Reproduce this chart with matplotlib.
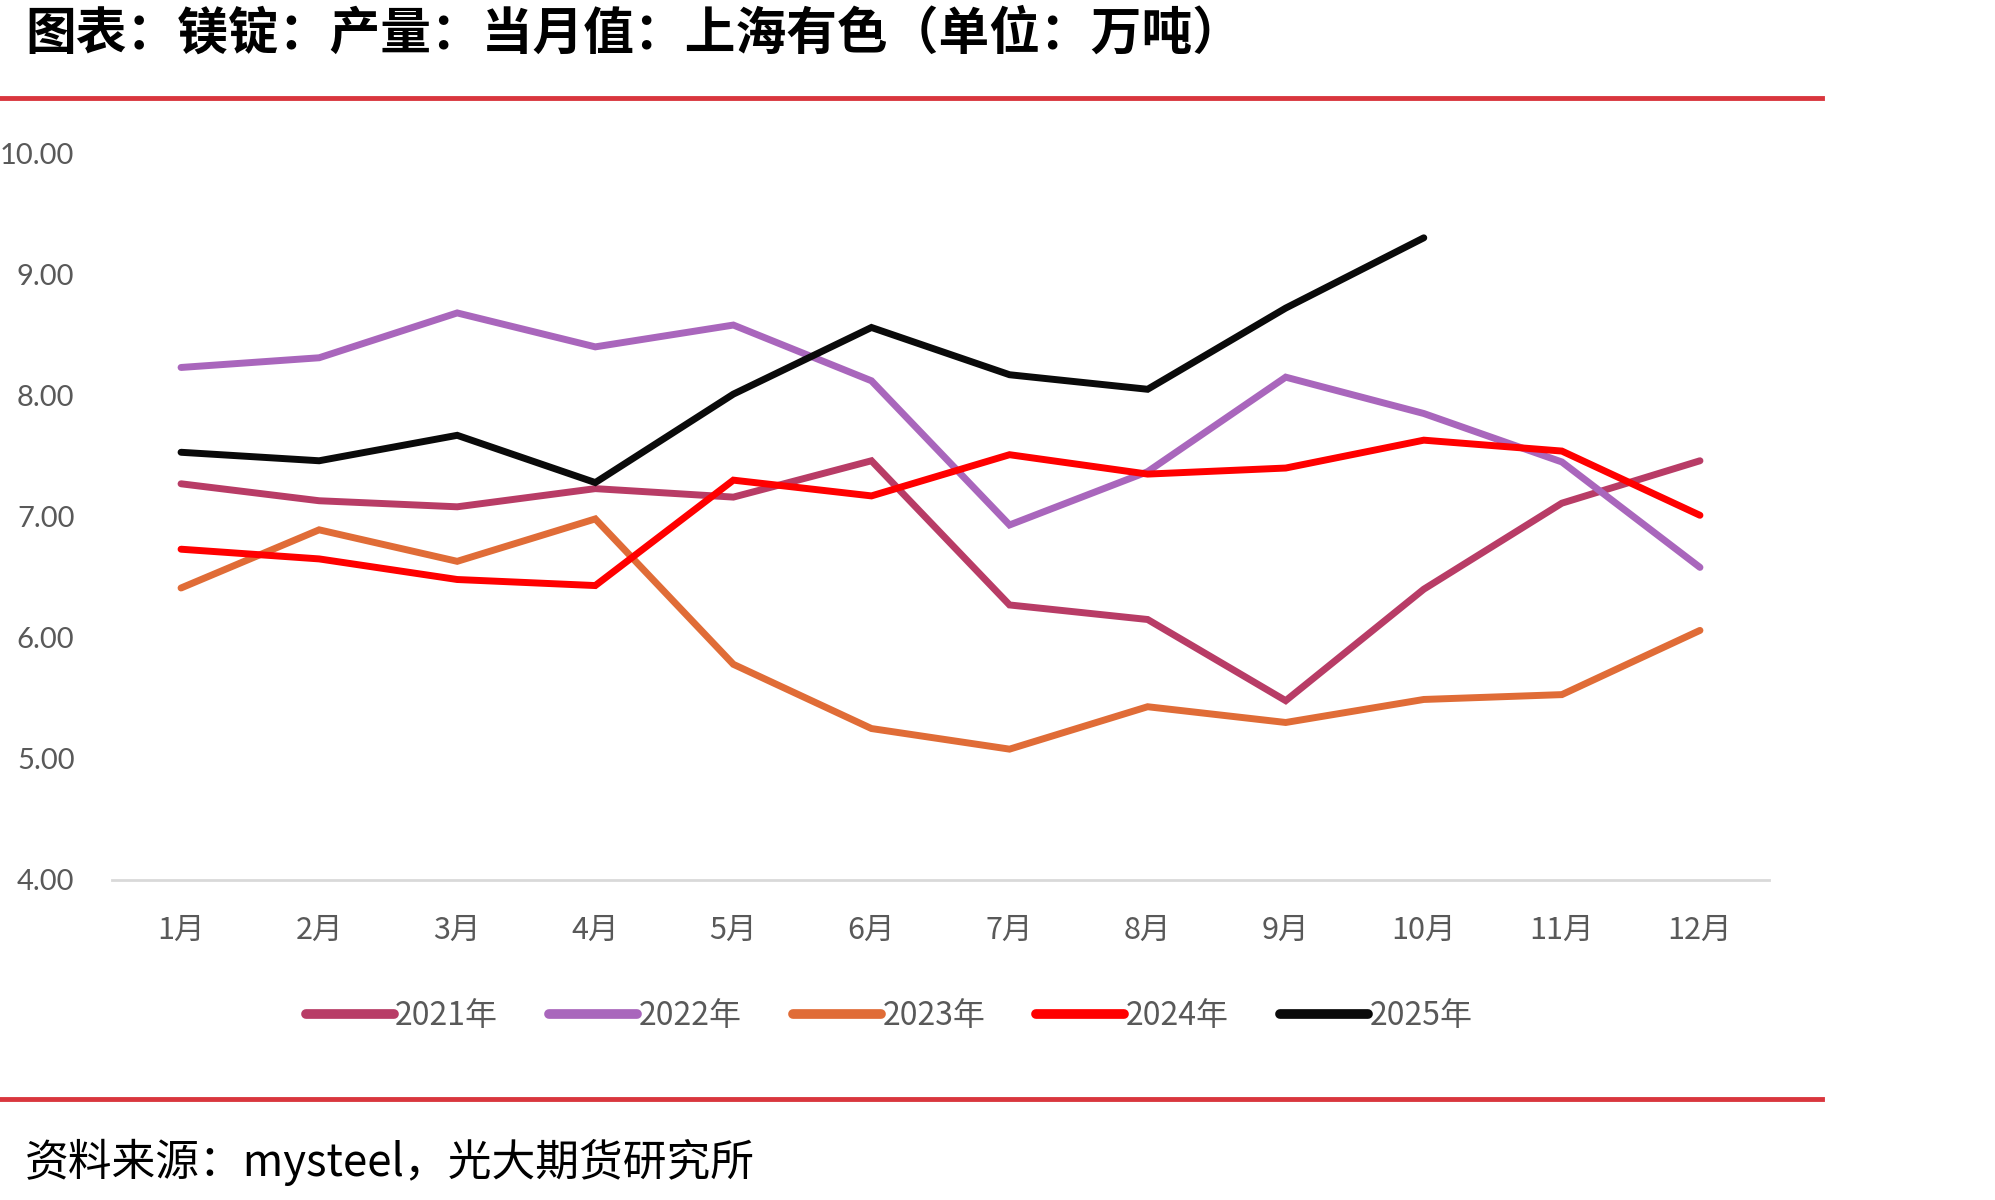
"""
Magnesium ingot monthly output (SMM), one line per year, saved as out.png.
"""

import matplotlib.pyplot as plt
from matplotlib.lines import Line2D

plt.rcParams["font.family"] = ["Noto Sans CJK SC", "DejaVu Sans"]

MONTHS = ["1月", "2月", "3月", "4月", "5月", "6月", "7月", "8月", "9月", "10月", "11月", "12月"]

Y2021 = [7.27, 7.13, 7.08, 7.23, 7.16, 7.46, 6.27, 6.15, 5.48, 6.40, 7.11, 7.46]
Y2022 = [8.23, 8.31, 8.68, 8.40, 8.58, 8.12, 6.93, 7.37, 8.15, 7.85, 7.45, 6.58]
Y2023 = [6.41, 6.89, 6.63, 6.98, 5.78, 5.25, 5.08, 5.43, 5.30, 5.49, 5.53, 6.06]
Y2024 = [6.73, 6.65, 6.48, 6.43, 7.30, 7.17, 7.51, 7.35, 7.40, 7.63, 7.54, 7.01]
Y2025 = [7.53, 7.46, 7.67, 7.28, 8.01, 8.56, 8.17, 8.05, 8.72, 9.30]

SERIES = [
    ("2021年", Y2021, "#B83C66"),
    ("2022年", Y2022, "#A966BC"),
    ("2023年", Y2023, "#E06C37"),
    ("2024年", Y2024, "#FF0000"),
    ("2025年", Y2025, "#0A0A0A"),
]

TICK_GREY = "#595959"
RULE_RED = "#D9363E"

fig = plt.figure(figsize=(19.95, 12.0), dpi=100)
ax = fig.add_axes([112 / 1995, 1 - 880 / 1200, (1769 - 112) / 1995, (880 - 153) / 1200])

x = list(range(len(MONTHS)))
for label, values, colour in SERIES:
    ax.plot(x[:len(values)], values, color=colour, lw=5, label=label,
            solid_capstyle="round", solid_joinstyle="miter")

ax.set_xlim(-0.5, len(MONTHS) - 0.5)
ax.set_ylim(4, 10)
ax.set_yticks([4, 5, 6, 7, 8, 9, 10])
ax.yaxis.set_major_formatter(plt.FuncFormatter(lambda v, _: f"{v:.2f}"))
ax.set_xticks(x)
ax.set_xticklabels(MONTHS)

for side in ("top", "right", "left"):
    ax.spines[side].set_visible(False)
ax.spines["bottom"].set_color("#D9D9D9")
ax.spines["bottom"].set_linewidth(2)
ax.tick_params(axis="both", length=0, colors=TICK_GREY)
ax.tick_params(axis="y", labelsize=21, pad=27)
ax.tick_params(axis="x", labelsize=22, pad=25)
for t in ax.get_yticklabels():
    t.set_family(["Lato", "DejaVu Sans"])

# legend below the plot, handles only (one per year)
handles = [Line2D([], [], color=c, lw=7, solid_capstyle="round") for _, _, c in SERIES]
fig.legend(handles, [s[0] for s in SERIES], loc="center", bbox_to_anchor=(889 / 1995, 1 - 1016 / 1200),
           ncol=5, frameon=False, fontsize=23, handlelength=2.75, handletextpad=0.05,
           columnspacing=1.6, labelcolor=TICK_GREY)

# title, red rules and source note
fig.text(25 / 1995, 1 - 34 / 1200, "图表：镁锭：产量：当月值：上海有色（单位：万吨）",
         fontsize=36.5, fontweight="bold", va="center", ha="left")
for y in (98, 1099):
    fig.add_artist(Line2D([0, 1822 / 1995], [1 - y / 1200] * 2, color=RULE_RED, lw=3.5))
fig.text(25 / 1995, 1 - 1162 / 1200, "资料来源：mysteel，光大期货研究所",
         fontsize=31.5, style="italic", va="center", ha="left")

fig.savefig("out.png", dpi=100)
